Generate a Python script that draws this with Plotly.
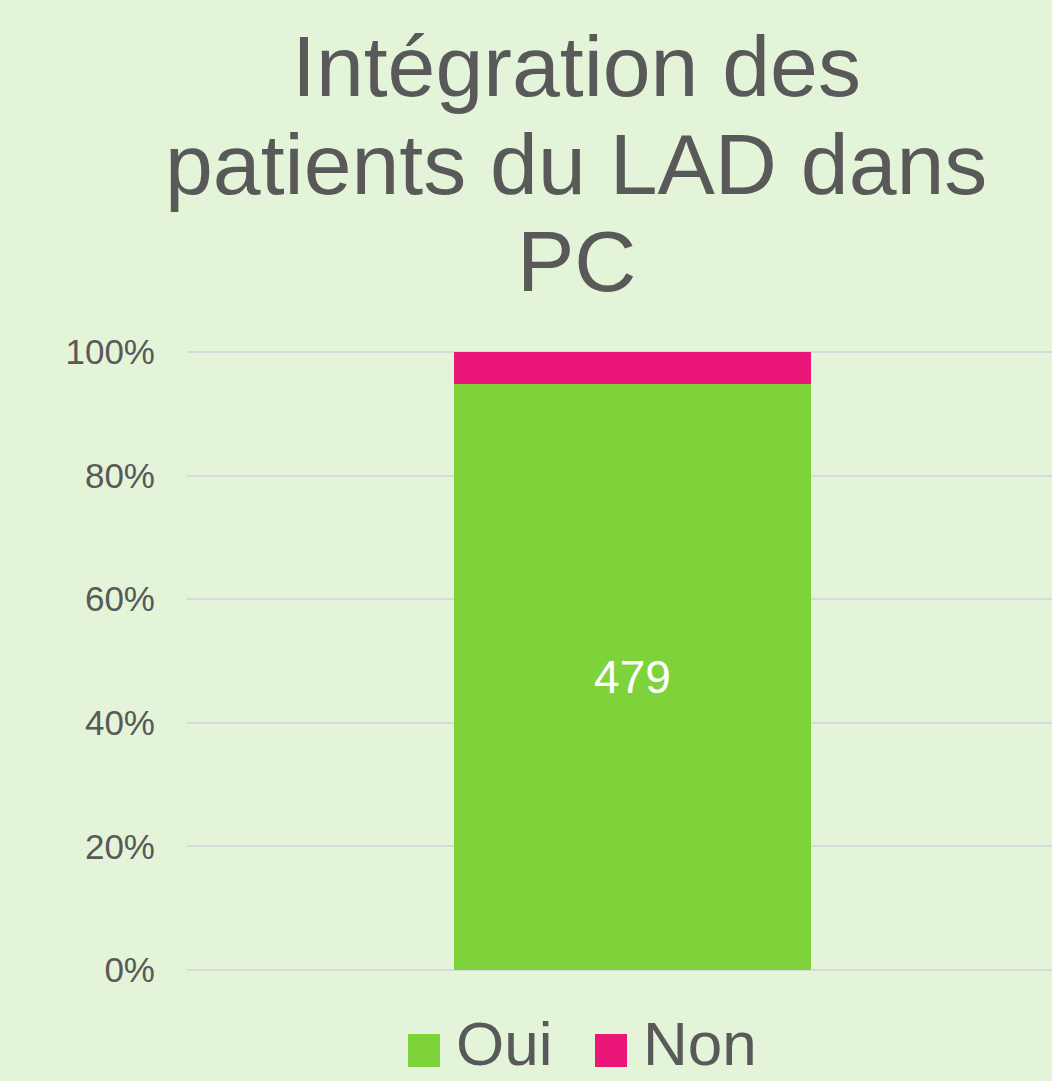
import plotly.graph_objects as go

categories = ["PC"]
oui_values = [479]
non_values = [26]
series_names = ["Oui", "Non"]
series_colors = ["#7ED33B", "#EB1679"]
title_lines = ["Intégration des", "patients du LAD dans", "PC"]

BG = "#E4F4D9"
TXT = "#595959"
FONT = "Liberation Sans, Arial, sans-serif"

W, H = 1052, 1081
ML, MR, MT, MB = 187, 0, 350, 109
PH = H - MT - MB
PW = W - ML - MR


def py2paper(py):
    return (H - MB - py) / PH


def px2paper(px):
    return (px - ML) / PW


fig = go.Figure()
fig.add_trace(go.Bar(
    x=categories, y=oui_values, name=series_names[0],
    marker=dict(color=series_colors[0], line=dict(width=0)),
    text=[str(v) for v in oui_values], textposition="inside",
    insidetextanchor="middle",
    textfont=dict(color="white", size=46, family=FONT),
    width=0.413,
))
fig.add_trace(go.Bar(
    x=categories, y=non_values, name=series_names[1],
    marker=dict(color=series_colors[1], line=dict(width=0)),
    width=0.413,
))

fig.update_layout(
    width=W, height=H,
    barmode="stack", barnorm="fraction",
    paper_bgcolor=BG, plot_bgcolor=BG,
    margin=dict(l=ML, r=MR, t=MT, b=MB, pad=0),
    showlegend=False,
    font=dict(family=FONT, color=TXT),
    xaxis=dict(range=[-0.515, 0.485], showticklabels=False, showgrid=False,
               zeroline=False, showline=False, type="category"),
    yaxis=dict(range=[-0.003, 1.003], tickvals=[0, 0.2, 0.4, 0.6, 0.8, 1.0],
               tickformat=".0%", showgrid=True,
               gridcolor="#D9D9D9", gridwidth=1.5, zeroline=False, showline=False,
               tickfont=dict(size=35, color=TXT, family=FONT),
               ticklabelstandoff=31),
)

# Title lines
title_centers = [66, 164, 261.5]
for line, cy in zip(title_lines, title_centers):
    fig.add_annotation(
        text=line, xref="paper", yref="paper",
        x=px2paper(W / 2 + 50), y=py2paper(cy), xanchor="center", yanchor="middle",
        showarrow=False, font=dict(size=86, color=TXT, family=FONT),
    )

# Custom legend
legend_items = [(408, 458), (595, 645)]
for (sx, tx), name, color in zip(legend_items, series_names, series_colors):
    fig.add_shape(type="rect", xref="paper", yref="paper",
                  x0=px2paper(sx), x1=px2paper(sx + 32),
                  y0=py2paper(1067), y1=py2paper(1034),
                  fillcolor=color, line=dict(width=0))
    fig.add_annotation(text=name, xref="paper", yref="paper",
                       x=px2paper(tx - 4), y=py2paper(1043), xanchor="left", yanchor="middle",
                       showarrow=False, font=dict(size=62, color=TXT, family=FONT))

fig.write_html("out.html", config={"displayModeBar": False},
               post_script="document.body.style.margin='0';")
